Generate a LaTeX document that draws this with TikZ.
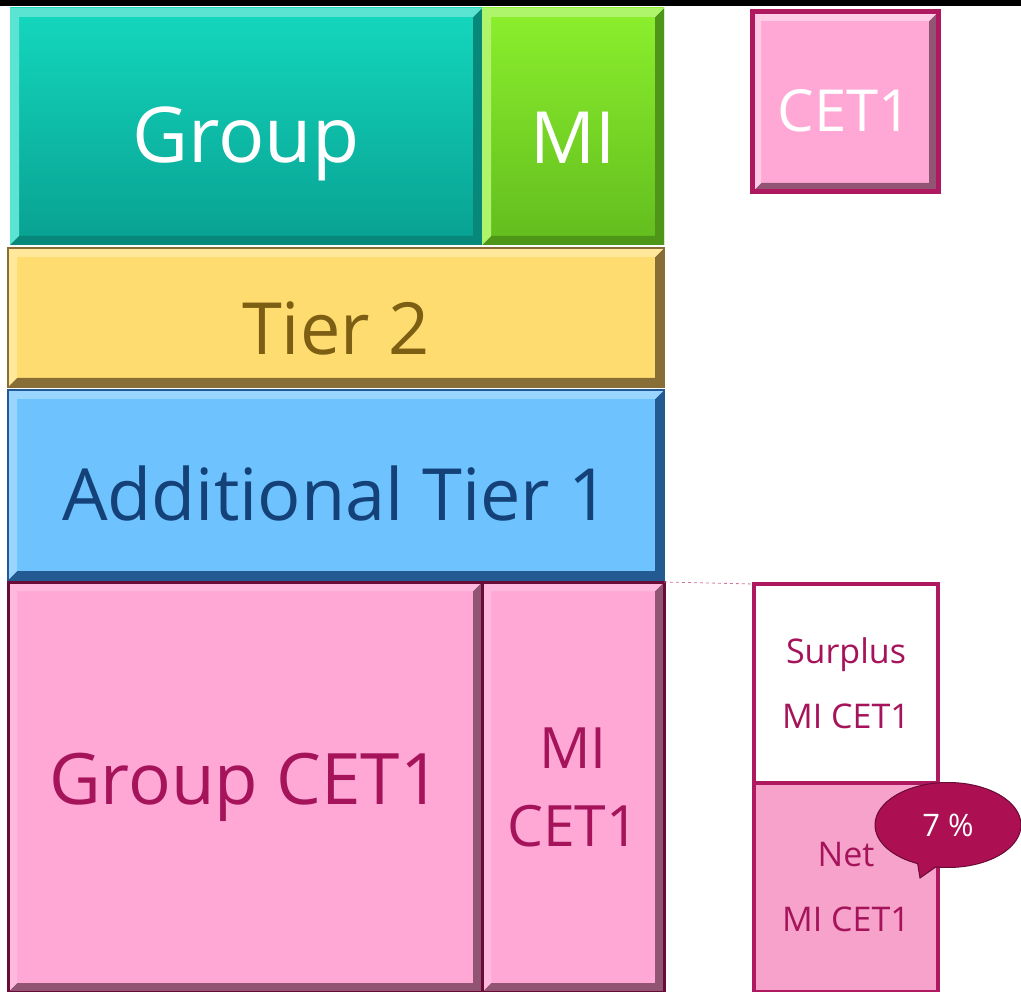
\documentclass[tikz,border=0pt]{standalone}
\usepackage{fontspec}
\setmainfont{Open Sans}
\usetikzlibrary{positioning, shapes.callouts}
\definecolor{tealtop}{RGB}{20,216,190}
\definecolor{tealbot}{RGB}{8,160,145}
\definecolor{mitop}{RGB}{140,240,45}
\definecolor{mibot}{RGB}{98,188,30}
\definecolor{tierfill}{RGB}{255,220,112}
\definecolor{tierdark}{RGB}{135,110,55}
\definecolor{tiertext}{RGB}{125,95,20}
\definecolor{atfill}{RGB}{110,195,255}
\definecolor{atdark}{RGB}{35,90,145}
\definecolor{attext}{RGB}{20,65,120}
\definecolor{pinkfill}{RGB}{255,168,214}
\definecolor{pinkdark}{RGB}{145,85,115}
\definecolor{plum}{RGB}{105,10,55}
\definecolor{magtext}{RGB}{165,20,90}
\definecolor{magline}{RGB}{175,25,95}
\definecolor{netfill}{RGB}{246,162,202}
\definecolor{bubble}{RGB}{172,15,82}
\tikzset{
    block/.style={inner sep=0pt, outer sep=0pt, align=center}, % plain box, size set per node
    drop/.style={text height=#1, text depth=0pt}, % pushes a one-line label down in its box
    bevel/.style 2 args={path picture={ % dark right/bottom edge, light top/left edge
        \fill[#1] (path picture bounding box.north east) -- (path picture bounding box.south east)
            -- (path picture bounding box.south west) -- ++(9pt,9pt)
            -| ([xshift=-9pt,yshift=-9pt]path picture bounding box.north east) -- cycle;
        \fill[#2] (path picture bounding box.south west) -- (path picture bounding box.north west)
            -- (path picture bounding box.north east) -- ++(-9pt,-9pt)
            -| ([xshift=9pt,yshift=9pt]path picture bounding box.south west) -- cycle;
    }},
    pinkbox/.style={block, fill=pinkfill, draw=plum, line width=3pt, text=magtext,
        bevel={pinkdark}{pinkfill!80!white}},
    sidebox/.style={block, draw=magline, line width=3.5pt, text=magtext, minimum width=184pt,
        font=\fontsize{34}{65}\selectfont},
}

\begin{document}
\begin{tikzpicture}[x=1pt, y=-1pt]
\useasboundingbox (0,0) rectangle (1021,992);
\fill[black] (0,0) rectangle (1021,6);

% capital stack
\node[block, anchor=north west, minimum width=472pt, minimum height=237pt, drop=73pt,
    top color=tealtop, bottom color=tealbot, bevel={tealbot!85!black}{tealtop!70!white},
    text=white, font=\fontsize{77}{80}\selectfont] (group) at (10,8) {Group};
\node[block, right=0pt of group, minimum width=182pt, minimum height=237pt, drop=75pt,
    top color=mitop, bottom color=mibot, bevel={mibot!80!black}{mitop!70!white},
    text=white, font=\fontsize{72}{80}\selectfont] (mi) {MI};
\node[block, anchor=north west, minimum width=656pt, minimum height=139pt, drop=75pt,
    fill=tierfill, draw=tierdark, line width=2pt, bevel={tierdark}{tierfill!70!white},
    text=tiertext, font=\fontsize{72}{80}\selectfont] (tier2) at (8,248) {Tier 2};
\node[block, below=3pt of tier2.south west, anchor=north west, minimum width=656pt, minimum height=190pt,
    drop=70pt, fill=atfill, draw=atdark, line width=2pt, bevel={atdark}{atfill!70!white},
    text=attext, font=\fontsize{72}{80}\selectfont] (at1) {Additional Tier 1};
\node[pinkbox, anchor=north west, minimum width=474pt, minimum height=410pt,
    font=\fontsize{71}{80}\selectfont] (gcet1) at (8,582) {Group CET1};
\node[pinkbox, right=0pt of gcet1, minimum width=182pt, minimum height=410pt,
    font=\fontsize{57}{78}\selectfont] (micet1) {MI\\CET1};

% legend box
\node[block, anchor=north west, minimum width=186pt, minimum height=180pt, drop=60pt,
    fill=pinkfill, draw=magline, line width=5pt, bevel={pinkdark}{pinkfill!60!white},
    text=white, font=\fontsize{58}{60}\selectfont] (cet1) at (752,12) {CET1};

% split of minority CET1
\node[sidebox, anchor=north west, minimum height=199pt, fill=white] (surplus) at (754,584) {Surplus\\MI CET1};
\node[sidebox, below=0pt of surplus, minimum height=209pt, fill=netfill] (net) {Net\\MI CET1};
\draw[magline!60, dashed, line width=0.8pt] (micet1.north east) -- (surplus.north west);

\node[ellipse callout, callout absolute pointer={(920,878)}, fill=bubble, draw=plum, line width=1pt,
    minimum width=146pt, minimum height=85pt, text=white, font=\fontsize{31}{34}\selectfont] (pct) at (948,825) {7 \%};
\end{tikzpicture}
\end{document}
